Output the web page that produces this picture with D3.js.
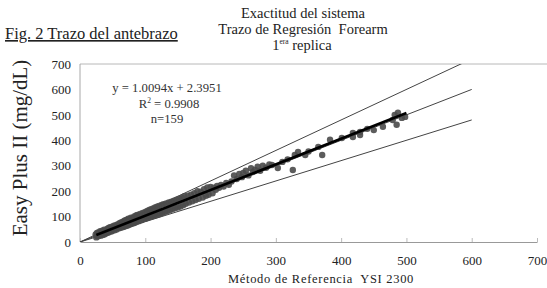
<!DOCTYPE html>
<html>
<head>
<meta charset="utf-8">
<script src="https://cdn.jsdelivr.net/npm/d3@7"></script>
<style>
  body { margin: 0; background: #fff; }
  text { font-family: "Liberation Serif", "DejaVu Serif", serif; white-space: pre; }
</style>
</head>
<body>
<div id="chart"></div>
<script>
// reference method (YSI 2300) vs Easy Plus II readings
var refX = [24,25,26,27,28,29,30,31,32,33,34,35,36,37,38,39,40,42,43,44,45,46,48,49,50,52,53,55,56,58,
  60,61,62,64,65,66,67,68,69,70,71,72,73,74,75,76,77,78,79,80,82,83,84,86,87,88,90,92,94,96,98,
  100,101,103,104,106,107,109,110,112,113,115,116,118,120,121,123,125,126,128,130,132,134,136,138,140,142,144,146,148,150,
  152,154,156,158,160,162,165,167,170,172,175,177,180,182,185,188,190,193,195,197,200,203,
  205,208,210,213,216,220,224,228,232,236,240,244,248,250,254,258,262,265,268,272,276,280,285,290,294,
  303,310,318,326,329,334,345,350,365,371,383,401,418,418,429,429,440,450,464,479,482,485,487,493,498];
var plusY = [30,18,36,22,38,24,33,42,25,37,44,28,40,48,30,45,34,52,36,55,40,58,41,60,45,64,46,66,49,70,
  54,75,56,78,58,80,60,84,62,86,64,88,65,92,68,90,70,96,72,94,74,100,76,104,80,106,82,110,86,114,90,
  118,92,122,95,126,98,129,100,132,103,136,105,139,108,142,112,146,114,149,118,152,122,156,126,158,130,162,134,166,136,
  170,140,174,145,180,150,182,155,186,160,192,165,200,170,198,175,208,182,215,186,216,192,
  214,205,220,213,224,218,232,225,238,262,248,268,255,272,280,262,290,275,283,296,280,300,292,305,303,
  291,315,325,283,342,354,342,356,374,342,402,409,429,413,433,421,445,440,453,480,500,461,508,488,492];

var slope = 1.0094, intercept = 2.3951;
var fitRange = [25, 500];
var refLines = [[0, 1.0], [0, 1.2], [0, 0.8]]; // identity and +/-20% (start, factor)
var xTicks = [0, 100, 200, 300, 400, 500, 600, 700];
var yTicks = [0, 100, 200, 300, 400, 500, 600, 700];

var W = 547, H = 288;
var margin = {top: 64, right: 10, bottom: 46, left: 80};
var width = W - margin.left - margin.right,
    height = H - margin.top - margin.bottom;

var svg = d3.select("#chart").append("svg")
  .attr("width", W).attr("height", H);

var x = d3.scaleLinear().domain([0, 700]).range([0, width]);
var y = d3.scaleLinear().domain([0, 700]).range([height, 0]);

var g = svg.append("g")
  .attr("transform", "translate(" + margin.left + "," + margin.top + ")");

svg.append("defs").append("clipPath").attr("id", "clip")
  .append("rect").attr("width", width).attr("height", height);

// plot frame
g.append("line").attr("x1", 0).attr("x2", W - margin.left).attr("y1", 0).attr("y2", 0)
  .style("stroke", "#b8b8b8");
g.append("line").attr("x1", 0).attr("x2", 0).attr("y1", 0).attr("y2", height)
  .style("stroke", "#a8a8a8");

// axes
var xAxis = g.append("g")
  .attr("transform", "translate(0," + height + ")")
  .call(d3.axisBottom(x).tickValues(xTicks).tickSizeInner(-4).tickSizeOuter(0).tickPadding(14));
var yAxis = g.append("g")
  .call(d3.axisLeft(y).tickValues(yTicks).tickSize(0).tickPadding(9));
yAxis.select(".domain").remove();
xAxis.select(".domain").style("stroke", "#999");
xAxis.selectAll(".tick line").style("stroke", "#bbb");
g.selectAll(".tick text")
  .style("font-family", "'Liberation Serif', serif")
  .style("font-size", "13px")
  .style("fill", "#222");

var plot = g.append("g").attr("clip-path", "url(#clip)");

// reference lines
refLines.forEach(function (r) {
  plot.append("line")
    .attr("x1", x(r[0])).attr("y1", y(r[0] * r[1]))
    .attr("x2", x(600)).attr("y2", y(600 * r[1]))
    .style("stroke", "#444").style("stroke-width", 1);
});

// points
plot.selectAll("circle")
  .data(refX)
  .enter()
  .append("circle")
    .attr("cx", function (d) { return x(d); })
    .attr("cy", function (d, i) { return y(plusY[i]); })
    .attr("r", 3.2)
    .style("fill", "#4a4a4a")
    .style("opacity", 0.9);

// regression line
plot.append("line")
  .attr("x1", x(fitRange[0])).attr("y1", y(slope * fitRange[0] + intercept))
  .attr("x2", x(fitRange[1])).attr("y2", y(slope * fitRange[1] + intercept))
  .style("stroke", "#000").style("stroke-width", 2.6);

// equation
var eq = svg.append("g").attr("text-anchor", "middle")
  .style("font-size", "12.7px").style("fill", "#333");
eq.append("text").attr("x", 167).attr("y", 92).text("y = 1.0094x + 2.3951");
var r2 = eq.append("text").attr("x", 169).attr("y", 108);
r2.append("tspan").text("R");
r2.append("tspan").attr("dy", -5).style("font-size", "7.5px").text("2");
r2.append("tspan").attr("dy", 5).text(" = 0.9908");
eq.append("text").attr("x", 167).attr("y", 123).text("n=159");

// titles
svg.append("text")
  .attr("x", 5).attr("y", 39)
  .style("font-size", "16.5px")
  .style("text-decoration", "underline")
  .style("fill", "#222")
  .text("Fig. 2 Trazo del antebrazo");

var t = svg.append("g").attr("text-anchor", "middle")
  .style("font-size", "14.5px").style("fill", "#222");
t.append("text").attr("x", 303).attr("y", 18).text("Exactitud del sistema");
t.append("text").attr("x", 303).attr("y", 34).text("Trazo de Regresi\u00f3n  Forearm");
var t3 = t.append("text").attr("x", 302).attr("y", 50);
t3.append("tspan").text("1");
t3.append("tspan").attr("dy", -6).style("font-size", "7.5px").text("era");
t3.append("tspan").attr("dy", 6).text(" replica");

// axis labels
svg.append("text")
  .attr("x", 321).attr("y", 283)
  .attr("text-anchor", "middle")
  .style("font-size", "12.5px")
  .style("letter-spacing", "0.7px")
  .style("fill", "#222")
  .text("M\u00e9todo de Referencia  YSI 2300");

svg.append("text")
  .attr("text-anchor", "middle")
  .attr("transform", "translate(27,148)rotate(-90)")
  .style("font-size", "21px")
  .style("fill", "#222")
  .text("Easy Plus II (mg/dL)");
</script>
</body>
</html>
